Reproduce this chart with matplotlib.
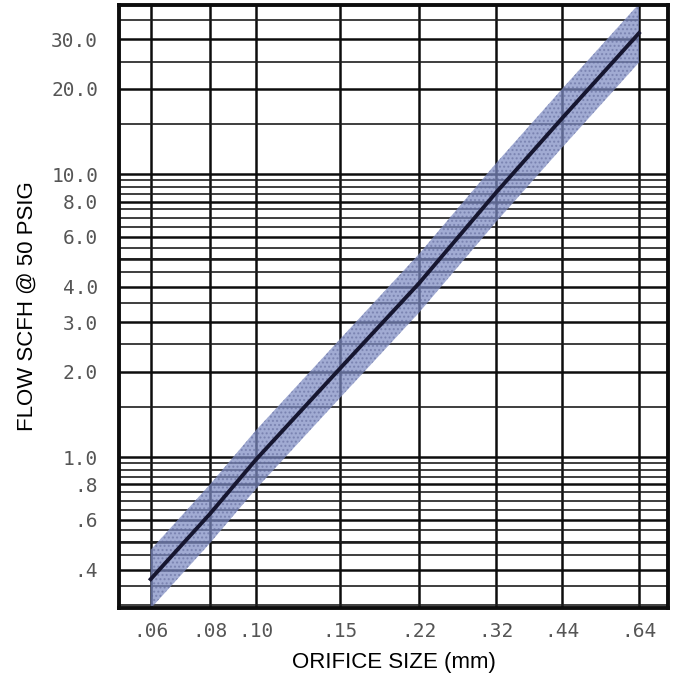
import numpy as np
import matplotlib.pyplot as plt
from matplotlib.ticker import NullFormatter

# orifice size (mm) vs flow at 50 psig
orifice = [0.06, 0.08, 0.10, 0.15, 0.22, 0.32, 0.44, 0.64]
flow = [0.37, 0.63, 0.98, 2.05, 4.1, 8.6, 15.7, 31.5]
band_factor = 1.27  # spread of the shaded tolerance band

x_ticks = [0.06, 0.08, 0.10, 0.15, 0.22, 0.32, 0.44, 0.64]
x_labels = [".06", ".08", ".10", ".15", ".22", ".32", ".44", ".64"]
y_ticks = [0.4, 0.6, 0.8, 1.0, 2.0, 3.0, 4.0, 6.0, 8.0, 10.0, 20.0, 30.0]
y_labels = [".4", ".6", ".8", "1.0", "2.0", "3.0", "4.0", "6.0", "8.0", "10.0", "20.0", "30.0"]

# chart-paper rulings
paper_lines = (list(np.arange(0.30, 1.0, 0.05)) + [1.5, 2.5]
               + list(np.arange(3.5, 10.0, 0.5)) + [15, 25, 35])
heavy_lines = [0.5, 5.0]

fig = plt.figure(figsize=(6.77, 6.79), dpi=100)
ax = fig.add_axes([0.1758, 0.1046, 0.8109, 0.8880])
ax.set_xscale("log")
ax.set_yscale("log")
ax.set_xlim(0.05147, 0.7366)
ax.set_ylim(0.2927, 39.6)

ax.set_xticks(x_ticks)
ax.set_xticklabels(x_labels)
ax.set_xticks([], minor=True)
ax.set_yticks(y_ticks)
ax.set_yticklabels(y_labels)
ax.set_yticks(paper_lines, minor=True)
ax.yaxis.set_minor_formatter(NullFormatter())

ax.set_axisbelow(True)
ax.grid(which="major", axis="both", color="#0d0d0d", lw=1.8)
ax.grid(which="minor", axis="y", color="#1e1e1e", lw=1.2)
for v in heavy_lines:
    ax.axhline(v, color="#0d0d0d", lw=1.8, zorder=0.5)

ax.tick_params(which="both", length=0)
ax.tick_params(axis="x", pad=10)
ax.tick_params(axis="y", pad=15)
for lab in ax.get_xticklabels() + ax.get_yticklabels():
    lab.set_family("DejaVu Sans Mono")
    lab.set_fontsize(14)
    lab.set_color("#555555")

for s in ax.spines.values():
    s.set_linewidth(2.8)
    s.set_color("#0d0d0d")

fl = np.array(flow)
ax.fill_between(orifice, fl / band_factor, fl * band_factor,
                facecolor="#7d8bc2", edgecolor="none", alpha=0.72, zorder=2)
ax.fill_between(orifice, fl / band_factor, fl * band_factor,
                facecolor="none", edgecolor="#5c6496", hatch="....",
                lw=0, alpha=0.5, zorder=2)
ax.plot(orifice, flow, color="#161630", lw=2.8, zorder=3)

ax.set_xlabel("ORIFICE SIZE (mm)", family="Liberation Sans", fontsize=16, labelpad=8)
ax.set_ylabel("FLOW SCFH @ 50 PSIG", family="Liberation Sans", fontsize=16, labelpad=10)

fig.savefig("out.png", dpi=100)
